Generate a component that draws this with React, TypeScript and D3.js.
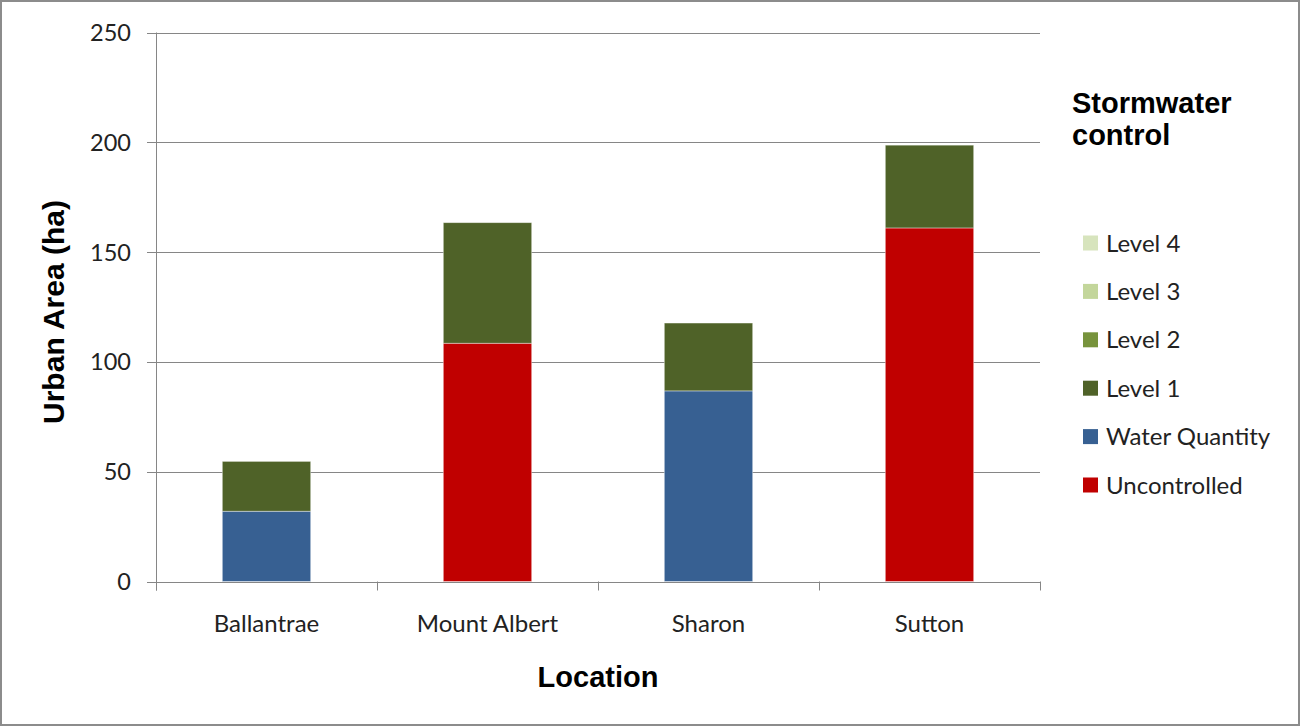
import React, { useEffect, useRef } from 'react';
import * as d3 from 'd3';

const locations = ["Ballantrae", "Mount Albert", "Sharon", "Sutton"];
const seriesNames = ["Uncontrolled", "Water Quantity", "Level 1", "Level 2", "Level 3", "Level 4"];
const uncontrolled = [0, 108.5, 0, 161];
const waterQuantity = [32, 0, 86.8, 0];
const level1 = [22.7, 54.9, 30.9, 37.7];
const level2 = [0, 0, 0, 0];
const level3 = [0, 0, 0, 0];
const level4 = [0, 0, 0, 0];
const yTicks = [0, 50, 100, 150, 200, 250];
const seriesColors = ["#c00000", "#376092", "#4f6228", "#77933c", "#c3d69b", "#d7e4bd"];

const App: React.FC = () => {
  const svgRef = useRef<SVGSVGElement>(null);

  useEffect(() => {
    if (!svgRef.current) return;
    const svg = d3.select(svgRef.current);
    svg.selectAll("*").remove();

    const width = 1301;
    const height = 727;
    const left = 156, right = 1040, top = 32.5, bottom = 581.5;
    const axisColor = "#868686";
    const tickFont = "Lato, 'Open Sans', sans-serif";
    const titleFont = "'Liberation Sans', Arial, sans-serif";

    svg.attr("width", width).attr("height", height);

    // outer frame
    svg.append("rect")
      .attr("x", 1).attr("y", 1)
      .attr("width", width - 3).attr("height", height - 3)
      .attr("fill", "#fff")
      .attr("stroke", "#8c8c8c")
      .attr("stroke-width", 2);

    const x = d3.scaleBand<string>().domain(locations).range([left, right]);
    const y = d3.scaleLinear().domain([0, 250]).range([bottom, top]);

    // gridlines + y ticks
    const grid = svg.append("g");
    yTicks.forEach(t => {
      grid.append("line")
        .attr("x1", left - 9).attr("x2", right)
        .attr("y1", Math.round(y(t)) + 0.5).attr("y2", Math.round(y(t)) + 0.5)
        .attr("stroke", axisColor).attr("stroke-width", 1);
      grid.append("text")
        .attr("x", left - 25)
        .attr("y", y(t))
        .attr("dy", "0.36em")
        .attr("text-anchor", "end")
        .attr("font-family", tickFont)
        .attr("font-size", 23.5)
        .attr("fill", "#222")
        .text(t);
    });

    // stacked bars
    const rows = locations.map((loc, i) => ({
      loc,
      "Uncontrolled": uncontrolled[i],
      "Water Quantity": waterQuantity[i],
      "Level 1": level1[i],
      "Level 2": level2[i],
      "Level 3": level3[i],
      "Level 4": level4[i],
    }));
    const stack = d3.stack<any>().keys(seriesNames);
    const stacked = stack(rows);
    const barW = x.bandwidth() * 0.4;

    stacked.forEach((layer, si) => {
      svg.append("g")
        .selectAll("rect")
        .data(layer)
        .join("rect")
        .attr("x", d => x(d.data.loc)! + (x.bandwidth() - barW) / 2)
        .attr("y", d => y(d[1]))
        .attr("width", barW)
        .attr("height", d => Math.max(0, y(d[0]) - y(d[1])))
        .attr("fill", seriesColors[si])
        .attr("stroke", d => (d[1] - d[0] > 0 ? "rgba(255,255,255,0.5)" : "none"))
        .attr("stroke-width", 0.8);
    });

    // axes lines
    svg.append("line")
      .attr("x1", left + 0.5).attr("x2", left + 0.5)
      .attr("y1", top).attr("y2", bottom + 9)
      .attr("stroke", axisColor);
    svg.append("line")
      .attr("x1", left).attr("x2", right)
      .attr("y1", Math.round(bottom) + 0.5).attr("y2", Math.round(bottom) + 0.5)
      .attr("stroke", axisColor);
    const bounds = [...locations.map(l => x(l)!), right];
    bounds.forEach(b => {
      svg.append("line")
        .attr("x1", Math.round(b) + 0.5).attr("x2", Math.round(b) + 0.5)
        .attr("y1", bottom).attr("y2", bottom + 9)
        .attr("stroke", axisColor);
    });

    // category labels
    locations.forEach(l => {
      svg.append("text")
        .attr("x", x(l)! + x.bandwidth() / 2)
        .attr("y", 632)
        .attr("text-anchor", "middle")
        .attr("font-family", tickFont)
        .attr("font-size", 24)
        .attr("fill", "#222")
        .text(l);
    });

    // axis titles
    svg.append("text")
      .attr("x", (left + right) / 2)
      .attr("y", 687)
      .attr("text-anchor", "middle")
      .attr("font-family", titleFont)
      .attr("font-weight", "bold")
      .attr("font-size", 29)
      .attr("fill", "#000")
      .text("Location");
    svg.append("text")
      .attr("transform", `translate(64,312) rotate(-90)`)
      .attr("text-anchor", "middle")
      .attr("font-family", titleFont)
      .attr("font-weight", "bold")
      .attr("font-size", 30)
      .attr("fill", "#000")
      .text("Urban Area (ha)");

    // legend
    const lg = svg.append("g");
    lg.append("text")
      .attr("x", 1072).attr("y", 113)
      .attr("font-family", titleFont)
      .attr("font-weight", "bold")
      .attr("font-size", 29)
      .attr("fill", "#000")
      .text("Stormwater");
    lg.append("text")
      .attr("x", 1072).attr("y", 145)
      .attr("font-family", titleFont)
      .attr("font-weight", "bold")
      .attr("font-size", 29)
      .attr("fill", "#000")
      .text("control");

    const legendOrder = [...seriesNames].reverse();
    const ly = d3.scalePoint<string>().domain(legendOrder).range([243, 485]);
    legendOrder.forEach(name => {
      const c = seriesColors[seriesNames.indexOf(name)];
      lg.append("rect")
        .attr("x", 1083).attr("y", ly(name)! - 7.5)
        .attr("width", 15).attr("height", 15)
        .attr("fill", c);
      lg.append("text")
        .attr("x", 1106).attr("y", ly(name)!)
        .attr("dy", "0.36em")
        .attr("font-family", tickFont)
        .attr("font-size", 24)
        .attr("fill", "#222")
        .text(name);
    });
  }, []);

  return (
    <div style={{ position: "absolute", left: 0, top: 0 }}>
      <svg ref={svgRef} style={{ display: "block" }}></svg>
    </div>
  );
};

export default App;
